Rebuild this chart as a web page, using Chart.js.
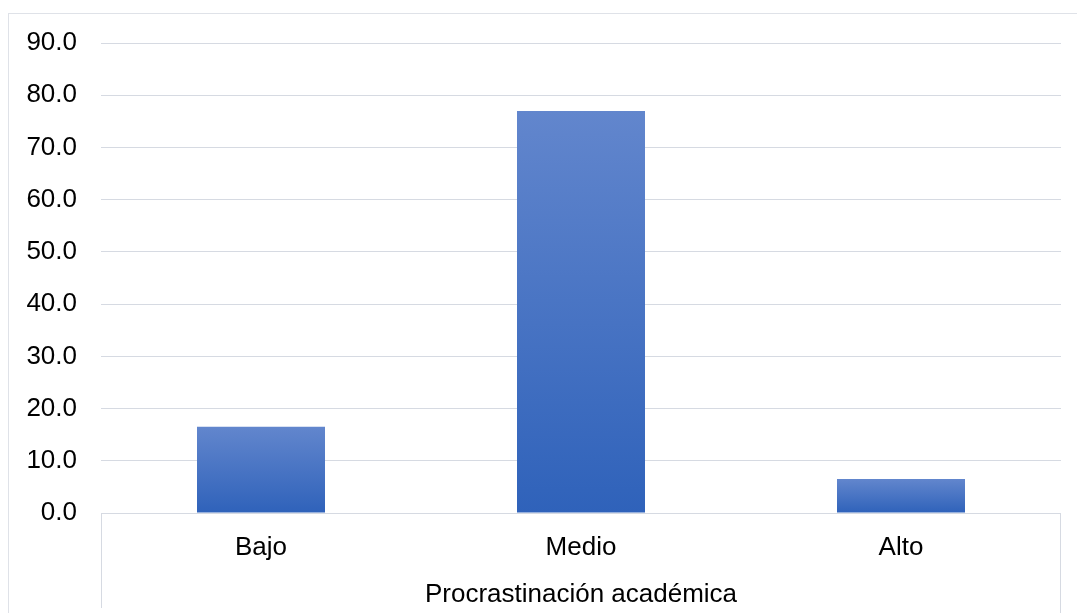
<!DOCTYPE html>
<html>
<head>
<meta charset="utf-8">
<script src="https://cdn.jsdelivr.net/npm/chart.js@4"></script>
<style>
  html, body { margin: 0; padding: 0; background: #ffffff; }
  canvas { display: block; }
</style>
</head>
<body>
<canvas id="chart" width="1077" height="613"></canvas>
<script>
// Nivel de procrastinación académica (%)
const categories = ['Bajo', 'Medio', 'Alto'];
const percentages = [16.5, 77.0, 6.5];
const groupLabel = 'Procrastinación académica';
const yTicks = [0, 10, 20, 30, 40, 50, 60, 70, 80, 90];

const FONT = '"Liberation Sans", Arial, sans-serif';
const GRID = '#d6dae2';

// Vertical gradient for each bar, from its top down to the baseline
function barGradient(ctx) {
  const chart = ctx.chart;
  const yScale = chart.scales.y;
  if (!yScale || ctx.raw === undefined) return '#4472c4';
  const top = yScale.getPixelForValue(ctx.raw);
  const base = yScale.getPixelForValue(0);
  if (!isFinite(top) || !isFinite(base) || top === base) return '#4472c4';
  const g = chart.ctx.createLinearGradient(0, top, 0, base);
  g.addColorStop(0, '#6286cd');
  g.addColorStop(1, '#2f62ba');
  return g;
}

// Chart frame, group separators and the group caption under the categories
const framePlugin = {
  id: 'frame',
  beforeDraw(chart) {
    const c = chart.ctx;
    c.save();
    c.strokeStyle = '#dfe2e8';
    c.lineWidth = 1;
    c.strokeRect(8.5, 13.5, chart.width + 10, chart.height + 10);
    c.restore();
  },
  afterDraw(chart) {
    const c = chart.ctx;
    const a = chart.chartArea;
    c.save();
    c.strokeStyle = GRID;
    c.lineWidth = 1;
    c.beginPath();
    const l = Math.round(a.left) + 0.5;
    const r = Math.round(a.right) - 0.5;
    c.moveTo(l, a.bottom);
    c.lineTo(l, 608);
    c.moveTo(r, a.bottom);
    c.lineTo(r, chart.height);
    c.stroke();
    c.fillStyle = '#000000';
    c.font = '26px ' + FONT;
    c.textAlign = 'center';
    c.textBaseline = 'middle';
    c.fillText(groupLabel, (a.left + a.right) / 2, 595);
    c.restore();
  }
};

new Chart(document.getElementById('chart'), {
  type: 'bar',
  data: {
    labels: categories,
    datasets: [{
      data: percentages,
      backgroundColor: barGradient,
      borderWidth: 0,
      barPercentage: 0.5,
      categoryPercentage: 0.8
    }]
  },
  options: {
    responsive: false,
    animation: false,
    events: [],
    layout: { padding: { left: 0, right: 16, top: 43, bottom: 0 } },
    plugins: {
      legend: { display: false },
      tooltip: { enabled: false },
      title: { display: false }
    },
    scales: {
      x: {
        grid: { display: false },
        border: { display: false },
        ticks: {
          color: '#000000',
          font: { family: FONT, size: 26 },
          padding: 11,
          maxRotation: 0
        },
        afterFit(scale) { scale.height = 100; }
      },
      y: {
        min: 0,
        max: 90,
        afterBuildTicks(scale) { scale.ticks = yTicks.map(v => ({ value: v })); },
        grid: { color: GRID, lineWidth: 1, drawTicks: false },
        border: { display: false },
        ticks: {
          color: '#000000',
          font: { family: FONT, size: 26 },
          padding: 24,
          callback: v => Number(v).toFixed(1)
        },
        afterFit(scale) { scale.width = 101; }
      }
    }
  },
  plugins: [framePlugin]
});
</script>
</body>
</html>
